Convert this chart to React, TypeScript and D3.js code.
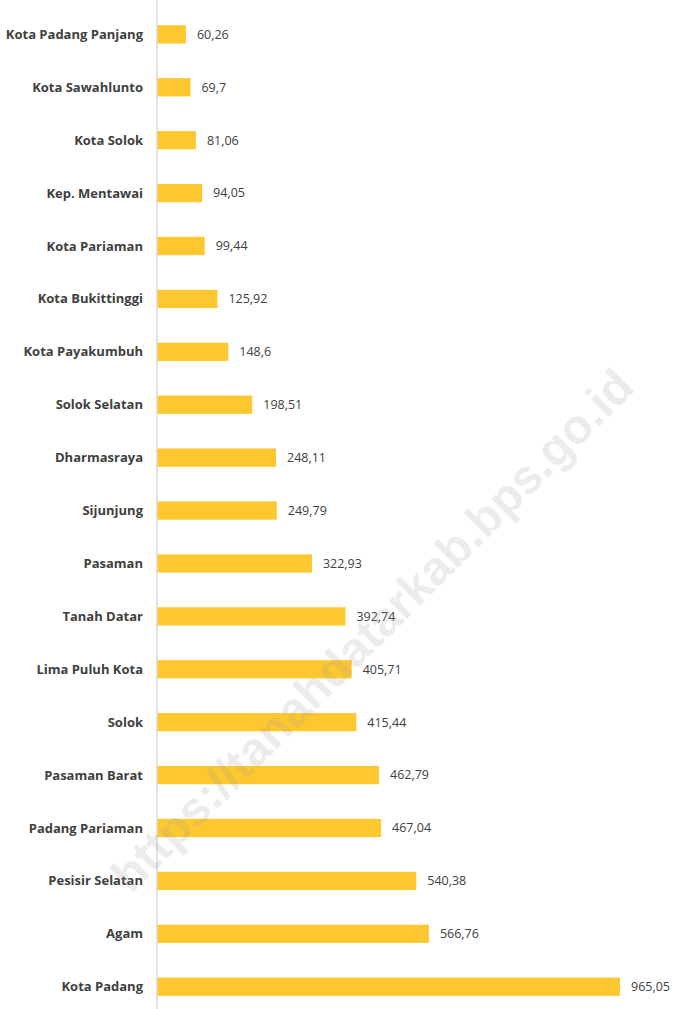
import React from "react";
import * as d3 from "d3";

const categories = [
  "Kota Padang Panjang", "Kota Sawahlunto", "Kota Solok", "Kep. Mentawai", "Kota Pariaman",
  "Kota Bukittinggi", "Kota Payakumbuh", "Solok Selatan", "Dharmasraya", "Sijunjung",
  "Pasaman", "Tanah Datar", "Lima Puluh Kota", "Solok", "Pasaman Barat",
  "Padang Pariaman", "Pesisir Selatan", "Agam", "Kota Padang",
];
const values = [
  60.26, 69.7, 81.06, 94.05, 99.44, 125.92, 148.6, 198.51, 248.11, 249.79,
  322.93, 392.74, 405.71, 415.44, 462.79, 467.04, 540.38, 566.76, 965.05,
];
const valueLabels = [
  "60,26", "69,7", "81,06", "94,05", "99,44", "125,92", "148,6", "198,51", "248,11", "249,79",
  "322,93", "392,74", "405,71", "415,44", "462,79", "467,04", "540,38", "566,76", "965,05",
];
const watermark = "https://tanahdatarkab.bps.go.id";

export default function App() {
  const W = 675, H = 1009;
  const x0 = 157;
  const x = d3.scaleLinear().domain([0, 965.05]).range([x0, 620]);
  const y = d3.scaleBand<string>().domain(categories).range([7.8, 1013.3]).paddingInner(0.655).paddingOuter(0.33);
  const font = "'Open Sans', 'DejaVu Sans', sans-serif";
  return (
    <svg width={W} height={H} style={{ position: "absolute", left: 0, top: 0 }}>
      <rect width={W} height={H} fill="#ffffff" />
      {categories.map((c, i) => {
        const yy = y(c)!;
        const bh = y.bandwidth();
        return (
          <g key={c}>
            <rect x={x0} y={yy} width={x(values[i]) - x0} height={bh} fill="#FDC82F" />
            <text x={143} y={yy + bh / 2} dy="0.35em" textAnchor="end" fontFamily={font} fontWeight="bold" fontSize={13} fill="#404040">{c}</text>
            <text x={x(values[i]) + 11} y={yy + bh / 2} dy="0.35em" textAnchor="start" fontFamily={font} fontSize={12.5} fill="#404040">{valueLabels[i]}</text>
          </g>
        );
      })}
      <line x1={x0} x2={x0} y1={0} y2={H} stroke="#d9d9d9" strokeWidth={1.5} />
      <text x={372} y={630} transform="rotate(-45 372 630)" textAnchor="middle" dy="0.35em" fontFamily="'Liberation Sans', Arial, sans-serif" fontWeight="bold" fontSize={48} fill="#9a9a9a" fillOpacity={0.2}>{watermark}</text>
    </svg>
  );
}
